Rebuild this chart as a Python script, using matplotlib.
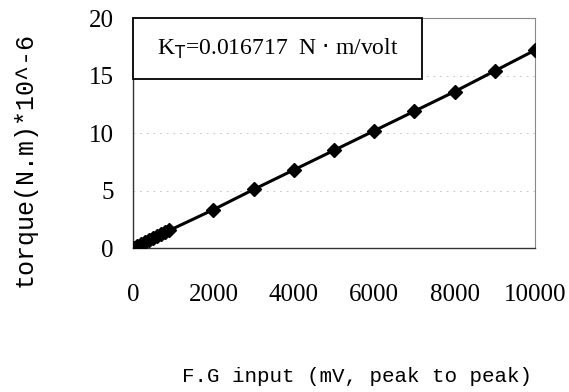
import numpy as np
import matplotlib.pyplot as plt
from matplotlib.patches import Rectangle

# F.G input (mV peak to peak) and measured torque (N.m * 10^-6)
fg_input = [10, 100, 200, 300, 400, 500, 600, 700, 800, 900,
            2000, 3000, 4000, 5000, 6000, 7000, 8000, 9000, 10000]
torque = [0.05, 0.2, 0.36, 0.52, 0.69, 0.86, 1.03, 1.2, 1.37, 1.54,
          3.35, 5.1, 6.8, 8.5, 10.2, 11.9, 13.6, 15.4, 17.2]

x_ticks = [0, 2000, 4000, 6000, 8000, 10000]
y_ticks = [0, 5, 10, 15, 20]

fig = plt.figure(figsize=(5.69, 3.92), dpi=100)
ax = fig.add_axes([0.234, 0.367, 0.706, 0.587])

ax.plot(fg_input, torque, color='black', lw=2.2, marker='D', ms=7,
        mec='black', mfc='black', zorder=3)

ax.set_xlim(0, 10000)
ax.set_ylim(0, 20)
ax.set_xticks(x_ticks)
ax.set_yticks(y_ticks)
ax.tick_params(length=0, labelsize=18, pad=14)
ax.tick_params(axis='x', pad=26)
for lab in ax.get_xticklabels() + ax.get_yticklabels():
    lab.set_family('Liberation Serif')

ax.grid(axis='y', color='#bbbbbb', lw=0.6, ls=(0, (2, 6)))
for side in ['left', 'bottom']:
    ax.spines[side].set_color('#333333')
    ax.spines[side].set_linewidth(1.0)
for side in ['top', 'right']:
    ax.spines[side].set_color('#888888')
    ax.spines[side].set_linewidth(0.8)

# constant label in a box at the upper-left corner of the plot area
ax.add_patch(Rectangle((0, 0.735), 0.719, 0.265, transform=ax.transAxes,
                       fc='white', ec='black', lw=1.3, zorder=4,
                       clip_on=False))
ax.text(0.36, 0.867, r'K$_\mathrm{T}$=0.016717  N $\cdot$ m/volt',
        transform=ax.transAxes, ha='center', va='center', fontsize=17,
        family='Liberation Serif', zorder=5)

fig.text(0.044, 0.592, 'torque(N.m)*10^-6', rotation=90, ha='center',
         va='center', fontsize=18, family='Liberation Mono')
fig.text(0.628, 0.040, 'F.G input (mV, peak to peak)', ha='center',
         va='center', fontsize=15, family='Liberation Mono')

fig.savefig('out.png', dpi=100)
